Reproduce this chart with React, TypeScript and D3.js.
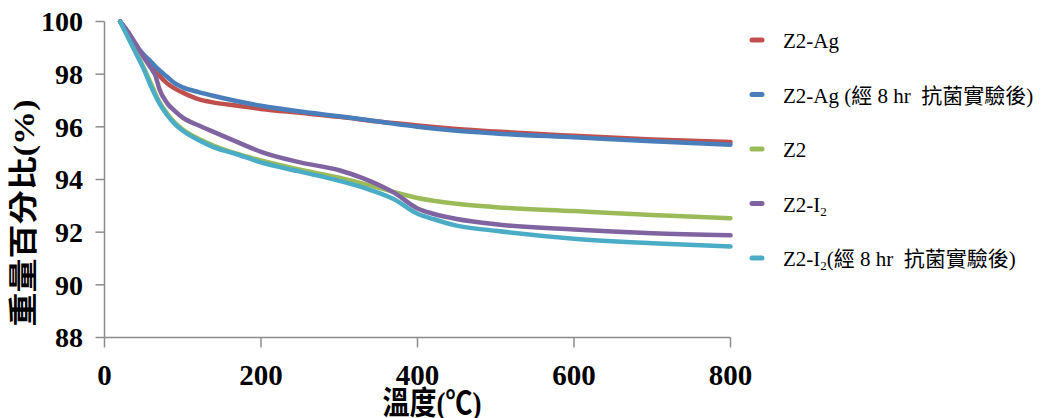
import React from "react";
import * as d3 from "d3";

// ---- data ----
const tempAg = [20, 30, 40, 50, 60, 70, 80, 90, 100, 120, 140, 170, 200, 250, 300, 350, 400, 450, 500, 600, 700, 800];
const z2Ag = [100, 99.6, 99.1, 98.7, 98.35, 97.95, 97.65, 97.45, 97.3, 97.05, 96.92, 96.8, 96.68, 96.53, 96.38, 96.2, 96.05, 95.92, 95.82, 95.66, 95.52, 95.42];
const z2AgAfter = [100, 99.6, 99.1, 98.75, 98.45, 98.15, 97.9, 97.65, 97.5, 97.32, 97.17, 96.97, 96.8, 96.58, 96.4, 96.2, 96.0, 95.85, 95.75, 95.6, 95.45, 95.32];

const tempZ2 = [20, 30, 40, 50, 60, 70, 80, 90, 100, 120, 140, 170, 200, 250, 300, 340, 370, 400, 450, 500, 600, 700, 800];
const z2 = [100, 99.45, 98.85, 98.25, 97.6, 96.95, 96.5, 96.15, 95.9, 95.55, 95.28, 94.97, 94.72, 94.37, 94.07, 93.77, 93.52, 93.3, 93.08, 92.95, 92.8, 92.65, 92.53];

const tempI2 = [20, 30, 40, 50, 60, 65, 70, 80, 90, 100, 120, 140, 170, 200, 250, 300, 330, 350, 370, 400, 420, 450, 500, 600, 700, 800];
const z2I2 = [100, 99.6, 99.15, 98.65, 98.2, 97.95, 97.45, 96.9, 96.6, 96.35, 96.06, 95.8, 95.42, 95.05, 94.65, 94.35, 94.05, 93.8, 93.5, 92.9, 92.7, 92.5, 92.3, 92.1, 91.96, 91.88];

const tempI2After = [20, 30, 40, 50, 60, 70, 80, 90, 100, 120, 140, 170, 200, 250, 300, 340, 370, 400, 420, 450, 500, 600, 700, 800];
const z2I2After = [100, 99.4, 98.8, 98.2, 97.5, 96.9, 96.45, 96.1, 95.85, 95.5, 95.22, 94.95, 94.65, 94.3, 93.95, 93.6, 93.25, 92.7, 92.5, 92.25, 92.05, 91.75, 91.58, 91.46];

const seriesNames = ["Z2-Ag", "Z2-Ag (經 8 hr  抗菌實驗後)", "Z2", "Z2-I₂", "Z2-I₂(經 8 hr  抗菌實驗後)"];
const seriesColors = ["#C0504D", "#4A7EBB", "#9BBB59", "#8064A2", "#4BACC6"];
const xTicks = [0, 200, 400, 600, 800];
const yTicks = [88, 90, 92, 94, 96, 98, 100];

const xTitle = "溫度(℃)";
const yTitle = "重量百分比(%)";

const series = [
  { t: tempAg, v: z2Ag },
  { t: tempAg, v: z2AgAfter },
  { t: tempZ2, v: z2 },
  { t: tempI2, v: z2I2 },
  { t: tempI2After, v: z2I2After },
];

const W = 1043;
const H = 418;
const axisColor = "#8c8c8c";
const serif = "'Times New Roman', 'Liberation Serif', serif";
const cjk = "'Times New Roman', 'Liberation Serif', 'Noto Sans CJK TC', serif";

function LegendLabel({ name }: { name: string }) {
  const parts = name.split("₂");
  if (parts.length === 1) return <>{name}</>;
  return (
    <>
      {parts[0]}
      <tspan fontSize={13} dy={4}>2</tspan>
      <tspan dy={-4}>{parts[1]}</tspan>
    </>
  );
}

export default function App() {
  const x = d3.scaleLinear().domain([0, 800]).range([104.5, 730.5]);
  const y = d3.scaleLinear().domain([88, 100]).range([337.5, 21.5]);
  const line = d3
    .line<[number, number]>()
    .x((d) => x(d[0]))
    .y((d) => y(d[1]))
    .curve(d3.curveMonotoneX);

  const legendX = 750;
  const legendY0 = 40;
  const legendStep = 54.5;

  return (
    <svg
      width={W}
      height={H}
      style={{ position: "absolute", left: 0, top: 0, background: "#fff" }}
    >
      {/* axes */}
      <line x1={x(0)} x2={x(0)} y1={y(100)} y2={y(88)} stroke={axisColor} strokeWidth={1.5} />
      <line x1={x(0)} x2={x(800)} y1={y(88)} y2={y(88)} stroke={axisColor} strokeWidth={1.5} />
      {yTicks.map((t) => (
        <g key={"y" + t}>
          <line x1={x(0) - 9} x2={x(0)} y1={y(t)} y2={y(t)} stroke={axisColor} strokeWidth={1.5} />
          <text
            x={83}
            y={y(t)}
            dy="0.35em"
            textAnchor="end"
            fontFamily={serif}
            fontWeight="bold"
            fontSize={28}
            fill="#000"
          >
            {t}
          </text>
        </g>
      ))}
      {xTicks.map((t) => (
        <g key={"x" + t}>
          <line x1={x(t)} x2={x(t)} y1={y(88)} y2={y(88) + 10} stroke={axisColor} strokeWidth={1.5} />
          <text
            x={x(t)}
            y={385}
            textAnchor="middle"
            fontFamily={serif}
            fontWeight="bold"
            fontSize={29}
            fill="#000"
          >
            {t}
          </text>
        </g>
      ))}

      {/* titles */}
      <text
        x={432}
        y={414}
        textAnchor="middle"
        fontFamily={cjk}
        fontWeight="bold"
        fontSize={32}
        textLength={99}
        lengthAdjust="spacingAndGlyphs"
        fill="#000"
      >
        {xTitle}
      </text>
      <text
        transform="translate(23.5,213) rotate(-90)"
        textAnchor="middle"
        dy="0.36em"
        fontFamily={cjk}
        fontWeight="bold"
        fontSize={29}
        textLength={227}
        lengthAdjust="spacingAndGlyphs"
        fill="#000"
      >
        {yTitle}
      </text>

      {/* lines */}
      {series.map((s, i) => (
        <path
          key={"s" + i}
          d={line(s.t.map((t, k) => [t, s.v[k]] as [number, number])) || ""}
          fill="none"
          stroke={seriesColors[i]}
          strokeWidth={4.5}
          strokeLinecap="round"
          strokeLinejoin="round"
        />
      ))}

      {/* legend */}
      {seriesNames.map((n, i) => {
        const ly = legendY0 + i * legendStep;
        return (
          <g key={"l" + i}>
            <line
              x1={legendX + 2}
              x2={legendX + 12}
              y1={ly}
              y2={ly}
              stroke={seriesColors[i]}
              strokeWidth={5}
              strokeLinecap="round"
            />
            <text
              x={783}
              y={ly + 8}
              fontFamily={cjk}
              fontSize={21}
              fill="#000"
              style={{ whiteSpace: "pre" }}
            >
              <LegendLabel name={n} />
            </text>
          </g>
        );
      })}
    </svg>
  );
}
